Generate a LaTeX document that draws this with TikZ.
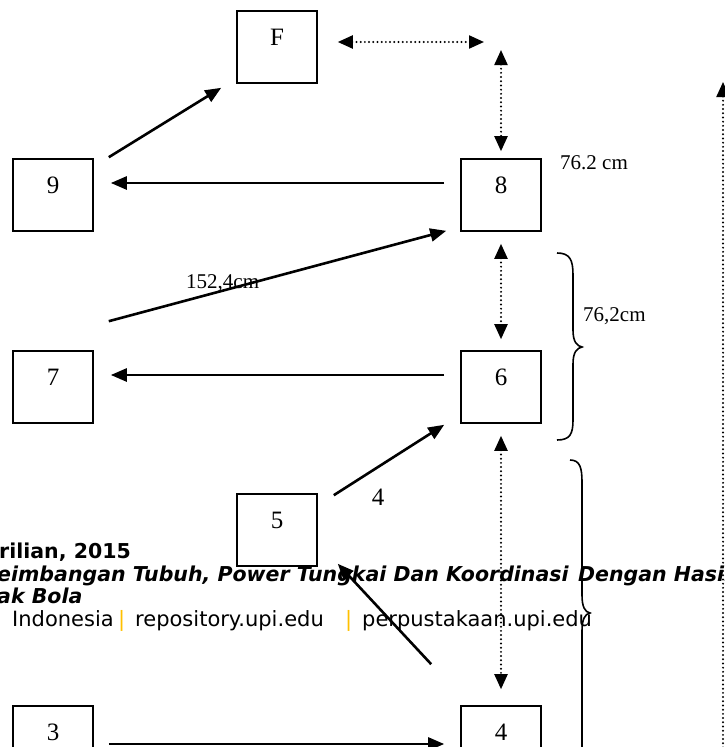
\documentclass[tikz,border=0pt]{standalone}
\usepackage{fontspec}
\setmainfont{Liberation Serif}
\newfontfamily\footfont{DejaVu Sans}
\usetikzlibrary{arrows.meta}
\definecolor{barorange}{RGB}{255,192,0}
\begin{document}
\begin{tikzpicture}[x=1pt,y=-1pt,
  box/.style={draw, line width=1.6pt, minimum width=80pt, minimum height=72pt, inner sep=0pt,
     font=\fontsize{25}{25}\selectfont, text depth=20pt},
  arr/.style={line width=2.6pt, -{Triangle[length=16pt,width=13pt]}},
  dotl/.style={line width=2.2pt, dash pattern=on 0pt off 4.2pt, line cap=round},
  tip/.tip={Triangle[length=15pt,width=13pt]},
  dim/.style={font=\fontsize{21}{21}\selectfont, inner sep=0pt},
  foot/.style={inner sep=0pt, anchor=base west, font=\footfont\fontsize{21}{21}\selectfont},
  footb/.style={inner sep=0pt, anchor=base west, font=\footfont\bfseries\fontsize{20.5}{20.5}\selectfont},
  footbi/.style={inner sep=0pt, anchor=base west, font=\footfont\bfseries\itshape\fontsize{20.5}{20.5}\selectfont},
  brace/.style={line width=1.6pt}]
\useasboundingbox (0,0) rectangle (725,747);
\clip (0,0) rectangle (725,747);
% background footer text
\node[footb] (t1) at (-1,558) {rilian, 2015};
\node[footbi] (t2) at (-3,581) {eimbangan Tubuh, Power Tungkai Dan Koordinasi};
\node[footbi] (t2b) at (578,581) {Dengan Hasil};
\node[footbi] (t3) at (-3,603) {ak Bola};
\node[foot] (t4) at (12,626) {Indonesia};
\node[foot, text=barorange] (t5) at (118,626) {|};
\node[foot] (t6) at (135,626) {repository.upi.edu};
\node[foot, text=barorange] (t7) at (345,626) {|};
\node[foot] (t8) at (362,626) {perpustakaan.upi.edu};
% boxes
\node[box] (F) at (277,47) {F};
\node[box] (n9) at (53,195) {9};
\node[box] (n8) at (501,195) {8};
\node[box] (n7) at (53,387) {7};
\node[box] (n6) at (501,387) {6};
\node[box] (n5) at (277,530) {5};
\node[box] (n3) at (53,742) {3};
\node[box] (n4) at (501,742) {4};
% free ends
\coordinate (c1) at (484,42);
\coordinate (c2) at (501,50);
\coordinate (c3) at (723,82);
\coordinate (c4) at (723,760);
% solid arrows
\draw[arr] ([shift={(15,-1)}]n9.north east) -- ([shift={(-15,4)}]F.south west);
\draw[arr] ([shift={(-16,-12)}]n8.west) -- ([shift={(17,-12)}]n9.east);
\draw[arr] ([shift={(15,-29)}]n7.north east) -- ([shift={(-14,-1)}]n8.south west);
\draw[arr] ([shift={(-16,-12)}]n6.west) -- ([shift={(17,-12)}]n7.east);
\draw[arr] ([shift={(16,2)}]n5.north east) -- ([shift={(-16,1)}]n6.south west);
\draw[arr] ([shift={(-29,-41)}]n4.north west) -- ([shift={(20,-3)}]n5.south east);
\draw[arr] ([shift={(15,2)}]n3.east) -- ([shift={(-16,2)}]n4.west);
% dotted arrows
\draw[dotl, tip-tip] ([shift={(20,-5)}]F.east) -- (c1);
\draw[dotl, tip-tip] (c2) -- ([shift={(0,-7)}]n8.north);
\draw[dotl, tip-tip] ([shift={(0,12)}]n8.south) -- ([shift={(0,-11)}]n6.north);
\draw[dotl, tip-tip] ([shift={(0,12)}]n6.south) -- ([shift={(0,-16)}]n4.north);
\draw[dotl, tip-] (c3) -- (c4);
% braces
\draw[brace] (557,253) .. controls (570,253) and (573,260) .. (573,275) -- (573,330)
  .. controls (573,342) and (577,346) .. (582,347)
  .. controls (577,348) and (573,352) .. (573,364) -- (573,420)
  .. controls (573,434) and (570,440) .. (557,440);
\draw[brace] (570,460) .. controls (580,460) and (582,468) .. (582,482) -- (582,595)
  .. controls (582,607) and (585,612) .. (590,613)
  .. controls (585,614) and (582,619) .. (582,631) -- (582,760);
% dimension labels
\node[dim, anchor=west] (d1) at (560,163) {76.2 cm};
\node[dim, anchor=west] (d2) at (583,316) {76,2cm};
\node[dim, anchor=west] (d3) at (186,283) {152,4cm};
\node[dim, font=\fontsize{25}{25}\selectfont] (d4) at (378,497) {4};
\end{tikzpicture}
\end{document}
